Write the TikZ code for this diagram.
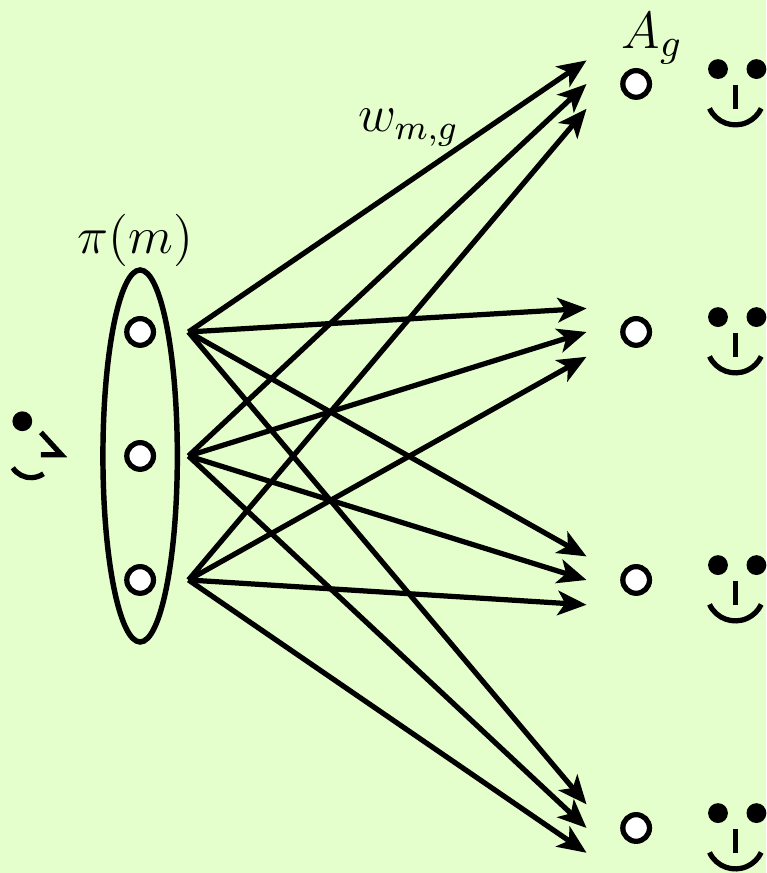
\documentclass[tikz,border=0pt]{standalone}
\usetikzlibrary{arrows.meta}
\definecolor{bgreen}{HTML}{E4FFCC}
\newcommand{\rightface}[1]{
  \fill[black] (4.66,#1+0.12) circle (0.08);
  \fill[black] (4.97,#1+0.12) circle (0.08);
  \draw[face] (4.8,#1-0.01) -- (4.8,#1-0.2);
  \draw[face] (4.8,#1-0.1) ++(205:0.23) arc (205:335:0.23);
}

\begin{document}
\begin{tikzpicture}[every node/.style={font=\fontsize{12.3}{14}\selectfont},
    face/.style={line width=1.2pt},
    agent/.style={circle, draw=black, line width=1.2pt, fill=white, minimum size=0.215cm, inner sep=0pt},
    bid/.style={black, line width=1.2pt, -{Stealth[length=6.6pt,width=5.6pt,inset=1.7pt]}}]
    \fill[bgreen] (-1.13,-3.363) rectangle (5.048,3.677);
    \useasboundingbox (-1.13,-3.363) rectangle (5.048,3.677);

    % Coalition
    \draw[black, line width=1.25pt] (0,0) ellipse (0.3 and 1.5);
    \node at (-0.04,1.74) {$\pi(m)$};

    % Left agents
    \foreach \m/\y in {1/1, 2/0, 3/-1} {
        \node[agent] (m\m) at (0,\y) {};
        \coordinate (s\m) at (0.39,\y);
    }

    % Right agents and arrow ends
    \foreach \g/\y in {1/3, 2/1, 3/-1, 4/-3} {
        \node[agent] (g\g) at (4,\y) {};
        \rightface{\y}
        \coordinate (e\g-1) at (3.6,\y+0.19);
        \coordinate (e\g-2) at (3.6,\y);
        \coordinate (e\g-3) at (3.6,\y-0.2);
    }

    % Arrows
    \foreach \m in {1,2,3} {
        \foreach \g in {1,2,3,4} {
            \draw[bid] (s\m) -- (e\g-\m);
        }
    }

    % Left face
    \fill[black] (-0.95,0.28) circle (0.08);
    \draw[face] (-0.8,0.19) -- (-0.635,0.01) -- (-0.8,0.01);
    \draw[face] (-0.88,0) ++(213:0.175) arc (213:305:0.175);

    % Labels
    \node at (4.13,3.37) {$A_g$};
    \node[font=\large] at (2.165,2.65) {$w_{m,g}$};
\end{tikzpicture}
\end{document}
